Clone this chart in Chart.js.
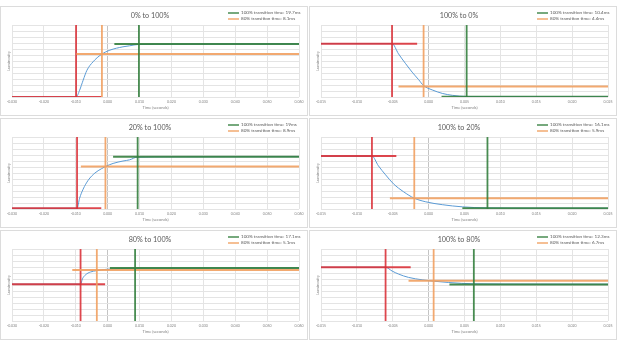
<!DOCTYPE html>
<html>
<head>
<meta charset="utf-8">
<script src="https://cdn.jsdelivr.net/npm/chart.js@4.4.1/dist/chart.umd.min.js"></script>
<style>
  html, body { margin: 0; padding: 0; background: #fff; }
  body { width: 618px; height: 348px; position: relative; overflow: hidden; }
  .panel { position: absolute; width: 308px; height: 110px; border: 1px solid #dcdcdc; box-sizing: border-box; background: #fff; }
  .panel canvas { display: block; }
</style>
</head>
<body>
<div class="panel" style="left:0;top:6px"><canvas id="c0" width="306" height="108"></canvas></div>
<div class="panel" style="left:309px;top:6px"><canvas id="c1" width="306" height="108"></canvas></div>
<div class="panel" style="left:0;top:118px"><canvas id="c2" width="306" height="108"></canvas></div>
<div class="panel" style="left:309px;top:118px"><canvas id="c3" width="306" height="108"></canvas></div>
<div class="panel" style="left:0;top:230px"><canvas id="c4" width="306" height="108"></canvas></div>
<div class="panel" style="left:309px;top:230px"><canvas id="c5" width="306" height="108"></canvas></div>
<script>
// Transition captures, one panel each
const titles = ['0% to 100%', '100% to 0%', '20% to 100%', '100% to 20%', '80% to 100%', '100% to 80%'];
const xMin = [-0.030, -0.015, -0.030, -0.015, -0.030, -0.015];
const xMax = [0.060, 0.025, 0.060, 0.025, 0.060, 0.025];
const xStep = [0.010, 0.005, 0.010, 0.005, 0.010, 0.005];

// measured transition times (ms)
const t100 = [19.7, 10.4, 19, 16.1, 17.1, 12.3];
const t80 = [8.1, 4.4, 8.9, 5.9, 5.1, 6.7];

// when the transition starts (s) and the levels around it
const startTime = [-0.0099, -0.0051, -0.0096, -0.0079, -0.0085, -0.0060];
const startLevel = [0, 89, 1.2, 88.2, 61.4, 89.6];
const level80 = [71.5, 17.5, 70.8, 18, 85, 67];
const level100 = [88.2, 0.4, 87, 1.2, 88.5, 61];

// extent of the horizontal marker lines (s)
const redEnd = [-0.0019, -0.0016, -0.0020, -0.0045, -0.0008, -0.0025];
const orangeFrom = [-0.0098, -0.0042, -0.0084, -0.0054, -0.0111, -0.0028];
const greenFrom = [0.0021, 0.0018, 0.0017, 0.0047, 0.0007, 0.0029];

// luminosity traces: [time s, luminosity]
const lum_0_100 = [[-0.030, 0], [-0.0099, 0], [-0.0088, 11.2], [-0.0077, 27.9], [-0.0065, 44.6], [-0.0046, 58.6],
  [-0.0020, 70.9], [0.0007, 78.1], [0.0048, 83.7], [0.0069, 85.4], [0.0096, 87.6], [0.020, 88.2], [0.040, 88.4], [0.060, 88.6]];
const lum_100_0 = [[-0.015, 89], [-0.0051, 89], [-0.0042, 72], [-0.0032, 55.5], [-0.0023, 41.5], [-0.0014, 29],
  [-0.0007, 19], [0.0005, 11.8], [0.0019, 6], [0.0033, 2.8], [0.0053, 0.8], [0.010, 0.4], [0.025, 0.3]];
const lum_20_100 = [[-0.030, 1.2], [-0.0096, 1.2], [-0.0088, 18], [-0.0077, 33], [-0.0061, 48], [-0.0040, 60],
  [-0.0020, 67], [-0.0007, 70.8], [0.0017, 76], [0.0048, 80], [0.0069, 82], [0.0092, 86.4], [0.020, 87], [0.060, 87.3]];
const lum_100_20 = [[-0.015, 88.2], [-0.0079, 88.2], [-0.0070, 72], [-0.0060, 57], [-0.0049, 42], [-0.0035, 28.8],
  [-0.0020, 18], [-0.0004, 12], [0.0019, 7.2], [0.0047, 3.6], [0.0082, 1.8], [0.015, 1.4], [0.025, 1.3]];
const lum_80_100 = [[-0.030, 61.4], [-0.0085, 61.4], [-0.0079, 70.4], [-0.0069, 77.2], [-0.0054, 81.7], [-0.0034, 84],
  [-0.0004, 86.2], [0.0085, 88], [0.030, 88.3], [0.060, 88.5]];
const lum_100_80 = [[-0.015, 89.6], [-0.0060, 89.6], [-0.0051, 83.4], [-0.0042, 78.3], [-0.0028, 72.7], [-0.0009, 68.7],
  [0.0006, 66.5], [0.0028, 64.2], [0.0063, 62], [0.015, 61.5], [0.025, 61.3]];
const traces = [lum_0_100, lum_100_0, lum_20_100, lum_100_20, lum_80_100, lum_100_80];

const Y_MAX = 120;
const FONT = 'Lato, "Open Sans", sans-serif';
const BLUE = '#5b9bd5';
const RED = 'rgba(218, 46, 54, 0.88)';
const ORANGE = 'rgba(241, 160, 96, 0.9)';
const GREEN = 'rgba(52, 128, 62, 0.9)';
const TEXT = '#595959';
const GRID = '#e4e4e4';

// legend drawn in the top-right corner, stacked, next to the centred title
const cornerLegend = {
  id: 'cornerLegend',
  afterDraw(chart, args, opts) {
    const ctx = chart.ctx;
    const items = Chart.defaults.plugins.legend.labels.generateLabels(chart).filter(it => it.text);
    ctx.save();
    ctx.font = '4.6px ' + FONT;
    ctx.textBaseline = 'middle';
    ctx.textAlign = 'left';
    items.forEach((it, k) => {
      const y = opts.top + k * opts.rowGap;
      ctx.strokeStyle = it.strokeStyle;
      ctx.lineWidth = 1.5;
      ctx.beginPath();
      ctx.moveTo(opts.left, y);
      ctx.lineTo(opts.left + opts.lineLen, y);
      ctx.stroke();
      ctx.fillStyle = TEXT;
      ctx.fillText(it.text, opts.left + opts.lineLen + 2, y);
    });
    ctx.restore();
  }
};

function seg(x0, y0, x1, y1) {
  return [{x: x0, y: y0}, {x: x1, y: y1}];
}

function fmtTick(v) {
  if (Math.abs(v) < 1e-9) return '0.000';
  return v.toFixed(3);
}

function buildChart(i) {
  const x80 = startTime[i] + t80[i] / 1000;
  const x100 = startTime[i] + t100[i] / 1000;
  const line = {showLine: true, pointRadius: 0, pointHoverRadius: 0, fill: false};

  // earlier datasets are painted on top, so the trace goes last
  const datasets = [
    Object.assign({label: '100% transition time: ' + t100[i] + 'ms', data: seg(x100, 0, x100, Y_MAX),
      borderColor: GREEN, backgroundColor: GREEN, borderWidth: 1.8}, line),
    Object.assign({data: seg(greenFrom[i], level100[i], xMax[i], level100[i]), borderColor: GREEN, borderWidth: 2}, line),
    Object.assign({label: '80% transition time: ' + t80[i] + 'ms', data: seg(x80, 0, x80, Y_MAX),
      borderColor: ORANGE, backgroundColor: ORANGE, borderWidth: 1.8}, line),
    Object.assign({data: seg(orangeFrom[i], level80[i], xMax[i], level80[i]), borderColor: ORANGE, borderWidth: 2}, line),
    Object.assign({data: seg(startTime[i], 0, startTime[i], Y_MAX), borderColor: RED, borderWidth: 1.8}, line),
    Object.assign({data: seg(xMin[i], startLevel[i], redEnd[i], startLevel[i]), borderColor: RED, borderWidth: 2}, line),
    Object.assign({data: traces[i].map(p => ({x: p[0], y: p[1]})), borderColor: BLUE, borderWidth: 1,
      cubicInterpolationMode: 'monotone'}, line)
  ];

  const ctx = document.getElementById('c' + i).getContext('2d');
  return new Chart(ctx, {
    type: 'scatter',
    data: {datasets: datasets},
    options: {
      responsive: false,
      animation: false,
      events: [],
      layout: {padding: {top: 0, right: 8, bottom: 0, left: 0}},
      plugins: {
        legend: {display: false},
        tooltip: {enabled: false},
        title: {
          display: true,
          text: titles[i],
          color: TEXT,
          font: {family: FONT, size: 7.2, weight: 'normal'},
          padding: {top: 4.7, bottom: 4.7}
        },
        cornerLegend: {left: 227, top: 6, rowGap: 6, lineLen: 11}
      },
      scales: {
        x: {
          type: 'linear',
          min: xMin[i],
          max: xMax[i],
          ticks: {
            stepSize: xStep[i],
            autoSkip: false,
            maxRotation: 0,
            padding: 3,
            color: '#7f7f7f',
            font: {family: FONT, size: 3.5},
            callback: fmtTick
          },
          grid: {
            color: c => (c.tick && Math.abs(c.tick.value) < 1e-9) ? '#c4c4c4' : GRID,
            drawTicks: false
          },
          border: {display: false},
          title: {
            display: true,
            text: 'Time (seconds)',
            color: '#7f7f7f',
            font: {family: FONT, size: 4},
            padding: {top: 0, bottom: 4.6}
          },
          afterFit: s => { s.height = 18; }
        },
        y: {
          min: 0,
          max: Y_MAX,
          ticks: {display: false, stepSize: 10},
          grid: {color: GRID, drawTicks: false},
          border: {display: false},
          title: {
            display: true,
            text: 'Luminosity',
            color: '#7f7f7f',
            font: {family: FONT, size: 4.2},
            padding: {top: 5.5, bottom: 0}
          },
          afterFit: s => { s.width = 11; }
        }
      }
    },
    plugins: [cornerLegend]
  });
}

const charts = titles.map((t, i) => buildChart(i));
</script>
</body>
</html>
